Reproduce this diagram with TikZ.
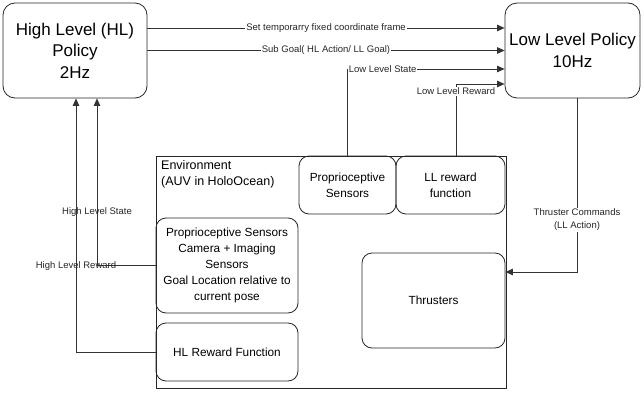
\documentclass[tikz,border=0pt]{standalone}
\usepackage{fontspec}
\setmainfont{Liberation Sans}
\usetikzlibrary{positioning}
\usetikzlibrary{arrows.meta}

\begin{document}
\begin{tikzpicture}
	[x=1pt,y=-1pt,
	policy/.style={draw=black!85,line width=0.8pt,rounded corners=12pt,align=center,
		font=\fontsize{17}{21.5}\selectfont,inner sep=0pt},
	part/.style={draw=black!85,line width=0.8pt,rounded corners=10pt,align=center,
		font=\fontsize{11.8}{16}\selectfont,inner sep=0pt},
	env/.style={draw=black!85,line width=0.8pt,inner sep=0pt},
	link/.style={draw=black!80,line width=0.7pt,-{Triangle[length=7.5pt,width=6.5pt]}},
	tag/.style={font=\fontsize{9.5}{13}\selectfont,align=center,inner sep=1pt,text=black!85}]

	\useasboundingbox (0,0) rectangle (644,396);

	% Draw the policies and the environment
	\draw node at (75,50.5) [policy,minimum width=144pt,minimum height=95pt](hl){High Level (HL)\\Policy\\2Hz}
		node at (572.5,50.5) [policy,minimum width=135pt,minimum height=95pt](ll){Low Level Policy\\10Hz}
		node at (331,272) [env,minimum width=350pt,minimum height=232pt](envbox){};

	\draw node at (161,160) [anchor=north west,align=left,inner sep=0pt,
		font=\fontsize{12.5}{16}\selectfont](envlabel){Environment\\(AUV in HoloOcean)};

	% Draw the parts inside the environment
	\draw node at (347.5,185) [part,minimum width=97pt,minimum height=58pt](prop){Proprioceptive\\Sensors}
		node at (450.5,185) [part,minimum width=109pt,minimum height=58pt](llrew){LL reward\\function}
		node at (227,265.5) [part,minimum width=142pt,minimum height=95pt](sens){Proprioceptive Sensors\\Camera + Imaging\\Sensors\\Goal Location relative to\\current pose}
		node at (227,352) [part,minimum width=142pt,minimum height=58pt](hlrew){HL Reward Function}
		node at (433.5,300.5) [part,minimum width=143pt,minimum height=95pt](thr){Thrusters};

	% Draw the links
	\draw[link] ([yshift=22.5pt]hl.east) -- node[tag,fill=white]{Set temporarry fixed coordinate frame}([yshift=22.5pt]ll.west);
	\draw[link] (hl.east) -- node[tag,fill=white]{Sub Goal( HL Action/ LL Goal)}(ll.west);
	\draw[link] (prop.north) |- node[tag,fill=white,pos=0.5,anchor=west]{Low Level State}([yshift=-18.5pt]ll.west);
	\draw[link] ([xshift=5.5pt]llrew.north) |- node[tag,fill=white,pos=0.45]{Low Level Reward}([yshift=-33.5pt]ll.west);
	\draw[link] ([xshift=4.5pt]ll.south) |- node[tag,fill=white,pos=0.35]{Thruster Commands\\(LL Action)}([yshift=28.5pt]thr.east);
	\draw[link] (sens.west) -| node[tag,pos=0.66]{High Level State}([xshift=22pt]hl.south);
	\draw[link] (hlrew.west) -| node[tag,pos=0.67]{High Level Reward}([xshift=1pt]hl.south);
\end{tikzpicture}
\end{document}
